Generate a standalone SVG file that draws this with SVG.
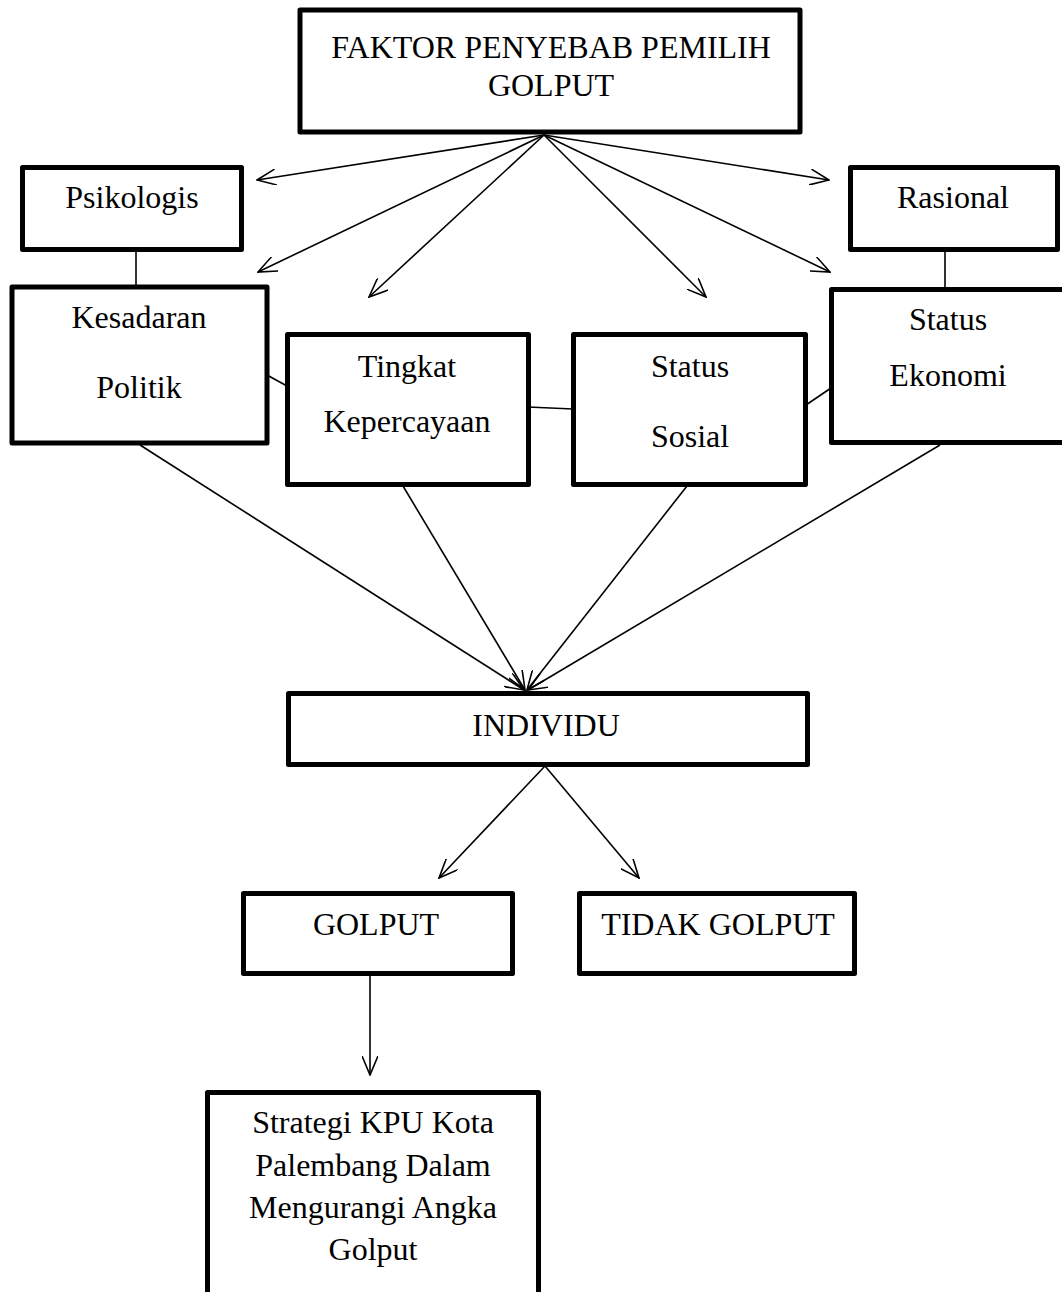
<svg xmlns="http://www.w3.org/2000/svg" width="1062" height="1292" viewBox="0 0 1062 1292">
<style>
.box{fill:#fff;stroke:#000;stroke-width:5;stroke-linejoin:round}
.t{font-family:"Liberation Serif","Times New Roman",serif;font-size:32px;fill:#000;text-anchor:middle}
.c{stroke:#000;stroke-width:1.6;fill:none}
</style>
<defs>
<marker id="ah" viewBox="0 0 20 16" refX="19" refY="8" markerWidth="20" markerHeight="16" markerUnits="userSpaceOnUse" orient="auto">
<path d="M0,0 L19,8 L0,16" fill="none" stroke="#000" stroke-width="1.6"/>
</marker>
</defs>
<rect width="1062" height="1292" fill="#fff"/>
<g id="connectors">
<line class="c" x1="544" y1="135" x2="257" y2="180" marker-end="url(#ah)"/>
<line class="c" x1="544" y1="135" x2="258" y2="272" marker-end="url(#ah)"/>
<line class="c" x1="544" y1="135" x2="369" y2="297" marker-end="url(#ah)"/>
<line class="c" x1="544" y1="135" x2="706" y2="297" marker-end="url(#ah)"/>
<line class="c" x1="544" y1="135" x2="829" y2="180" marker-end="url(#ah)"/>
<line class="c" x1="544" y1="135" x2="830" y2="272" marker-end="url(#ah)"/>
<line class="c" x1="136" y1="250" x2="136" y2="287"/>
<line class="c" x1="945" y1="250" x2="945" y2="290"/>
<line class="c" x1="267" y1="375" x2="287" y2="386"/>
<line class="c" x1="528" y1="407" x2="573" y2="409"/>
<line class="c" x1="806" y1="405" x2="831" y2="388"/>
<line class="c" x1="140" y1="445" x2="524" y2="690" marker-end="url(#ah)"/>
<line class="c" x1="403" y1="486" x2="525" y2="690" marker-end="url(#ah)"/>
<line class="c" x1="687" y1="486" x2="527" y2="690" marker-end="url(#ah)"/>
<line class="c" x1="940" y1="445" x2="528" y2="690" marker-end="url(#ah)"/>
<line class="c" x1="545" y1="766" x2="439" y2="878" marker-end="url(#ah)"/>
<line class="c" x1="545" y1="766" x2="639" y2="878" marker-end="url(#ah)"/>
<line class="c" x1="370" y1="976" x2="370" y2="1075" marker-end="url(#ah)"/>
</g>
<g id="faktor">
<rect class="box" x="300" y="10" width="500" height="122"/>
<text class="t" x="551" y="58">FAKTOR PENYEBAB PEMILIH</text>
<text class="t" x="551" y="96">GOLPUT</text>
</g>
<g id="psikologis">
<rect class="box" x="22.5" y="167.5" width="219" height="82"/>
<text class="t" x="132" y="208">Psikologis</text>
</g>
<g id="rasional">
<rect class="box" x="850.5" y="167.5" width="207" height="82"/>
<text class="t" x="953" y="208">Rasional</text>
</g>
<g id="kesadaran">
<rect class="box" x="12" y="287" width="255" height="156"/>
<text class="t" x="139" y="328">Kesadaran</text>
<text class="t" x="139" y="398">Politik</text>
</g>
<g id="tingkat">
<rect class="box" x="287.5" y="334.5" width="241" height="150"/>
<text class="t" x="407" y="377">Tingkat</text>
<text class="t" x="407" y="432">Kepercayaan</text>
</g>
<g id="sosial">
<rect class="box" x="573.5" y="334.5" width="232" height="150"/>
<text class="t" x="690" y="377">Status</text>
<text class="t" x="690" y="447">Sosial</text>
</g>
<g id="ekonomi">
<rect class="box" x="831.5" y="289.5" width="240" height="153"/>
<text class="t" x="948" y="330">Status</text>
<text class="t" x="948" y="386">Ekonomi</text>
</g>
<g id="individu">
<rect class="box" x="288.5" y="693.5" width="519" height="71"/>
<text class="t" x="546" y="736">INDIVIDU</text>
</g>
<g id="golput">
<rect class="box" x="243.5" y="893.5" width="269" height="80"/>
<text class="t" x="376" y="935">GOLPUT</text>
</g>
<g id="tidak-golput">
<rect class="box" x="579.5" y="893.5" width="275" height="80"/>
<text class="t" x="718" y="935">TIDAK GOLPUT</text>
</g>
<g id="strategi">
<rect class="box" x="207.5" y="1092.5" width="331" height="220"/>
<text class="t" x="373" y="1133">Strategi KPU Kota</text>
<text class="t" x="373" y="1176">Palembang Dalam</text>
<text class="t" x="373" y="1218">Mengurangi Angka</text>
<text class="t" x="373" y="1260">Golput</text>
</g>
</svg>
